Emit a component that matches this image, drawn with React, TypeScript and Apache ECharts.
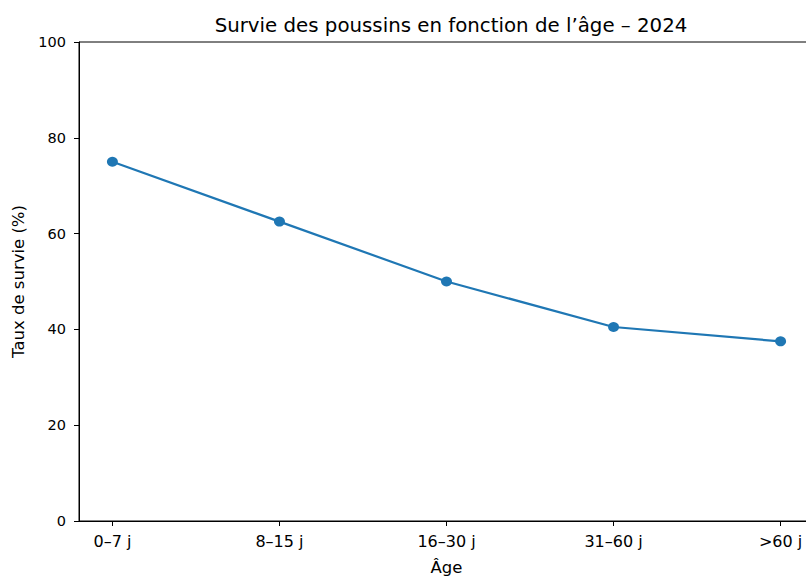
import React, { useEffect, useRef } from "react";
import * as echarts from "echarts";

const categories = ["0–7 j", "8–15 j", "16–30 j", "31–60 j", ">60 j"];
const survival = [75, 62.5, 50, 40.5, 37.5];
const yTicks = [0, 20, 40, 60, 80, 100];
const titleText = "Survie des poussins en fonction de l’âge – 2024";
const xName = "Âge";
const yName = "Taux de survie (%)";

export default function App() {
  const ref = useRef<HTMLDivElement>(null);
  useEffect(() => {
    if (!ref.current) return;
    const chart = echarts.init(ref.current, undefined, { renderer: "svg" });
    const font = "DejaVu Sans";
    const idx = categories.map((_, i) => i);
    chart.setOption({
      animation: false,
      backgroundColor: "#ffffff",
      title: {
        text: titleText,
        left: 446,
        top: 10,
        textAlign: "center",
        textStyle: { fontFamily: font, fontSize: 19.8, fontWeight: "normal", color: "#000" },
      },
      grid: {
        left: 79,
        top: 42,
        width: 735,
        height: 479,
        show: true,
        borderColor: "#000",
        borderWidth: 1,
        backgroundColor: "transparent",
        containLabel: false,
        outerBoundsMode: "none",
      },
      xAxis: {
        type: "value",
        min: -0.2,
        max: 4.2,
        name: xName,
        nameLocation: "middle",
        nameGap: 38,
        nameTextStyle: { fontFamily: font, fontSize: 16.5, color: "#000" },
        axisLine: { show: true, onZero: false, lineStyle: { color: "#000", width: 1 } },
        axisTick: { show: true, customValues: idx, length: 5, lineStyle: { color: "#000" } },
        axisLabel: {
          customValues: idx,
          formatter: (v: number) => categories[Math.round(v)] ?? "",
          fontFamily: font,
          fontSize: 16,
          color: "#000",
          margin: 12,
        },
        splitLine: { show: false },
      },
      yAxis: {
        type: "value",
        min: yTicks[0],
        max: yTicks[yTicks.length - 1],
        interval: yTicks[1] - yTicks[0],
        name: yName,
        nameLocation: "middle",
        nameGap: 52,
        nameTextStyle: { fontFamily: font, fontSize: 16.5, color: "#000" },
        axisLine: { show: true, onZero: false, lineStyle: { color: "#000", width: 1 } },
        axisTick: { show: true, length: 5, lineStyle: { color: "#000" } },
        axisLabel: { fontFamily: font, fontSize: 14.5, color: "#000", margin: 13 },
        splitLine: { show: false },
      },
      series: [
        {
          type: "line",
          data: survival.map((v, i) => [i, v]),
          symbol: "circle",
          symbolSize: [11, 10],
          itemStyle: { color: "#1f77b4" },
          lineStyle: { color: "#1f77b4", width: 2.2 },
        },
      ],
    });
    return () => chart.dispose();
  }, []);
  return (
    <div
      ref={ref}
      style={{ position: "absolute", left: 0, top: 0, width: 806, height: 576 }}
    />
  );
}
